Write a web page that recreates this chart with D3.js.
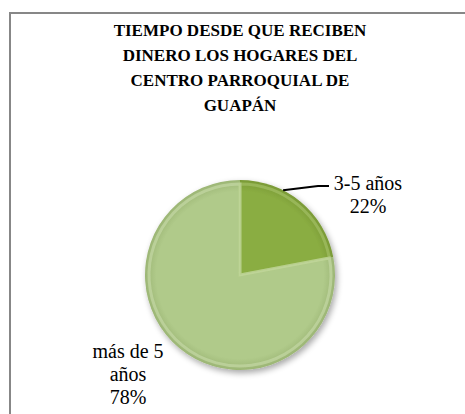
<!DOCTYPE html>
<html><head><meta charset="utf-8">
<script src="https://cdn.jsdelivr.net/npm/d3@7"></script>
</head><body>
<script>
const titleLines = ["TIEMPO DESDE QUE RECIBEN", "DINERO LOS HOGARES DEL", "CENTRO PARROQUIAL DE", "GUAPÁN"];
const categories = ["3-5 años", "más de 5 años"];
const values = [22, 78];
const colors = ["#8aad42", "#b0ca8a"];
const edgeColors = ["#a9c56c", "#c9dcab"];
const darkColors = ["#7a9a36", "#9cb675"];

d3.select("body").style("margin","0px").style("background","#fff");
const W = 465, H = 414;
const svg = d3.select("body").append("svg").attr("width", W).attr("height", H).style("display","block");
const defs = svg.append("defs");
const serifFont = "Liberation Serif";

// frame
svg.append("path").attr("d", `M10,${H+5} L10,13 L${W+5},13`).attr("fill","none").attr("stroke","#878787").attr("stroke-width",2);

// title
svg.selectAll("text.title").data(titleLines).join("text").attr("class","title")
  .attr("x",240).attr("y",(d,i)=>36+i*25).attr("text-anchor","middle")
  .attr("font-family",serifFont).attr("font-weight","bold").attr("font-size",17).text(d=>d);

const cx = 240, cy = 275, r = 95;
const pie = d3.pie().sort(null).value(d=>d)(values);
const arc = d3.arc().innerRadius(0).outerRadius(r);
const arcInner = d3.arc().innerRadius(0).outerRadius(r-4);

// shadow filter
const f = defs.append("filter").attr("id","sh").attr("x","-20%").attr("y","-20%").attr("width","140%").attr("height","140%");
f.append("feGaussianBlur").attr("in","SourceAlpha").attr("stdDeviation",3);
f.append("feOffset").attr("dx",2).attr("dy",3).attr("result","ob");
f.append("feComponentTransfer").append("feFuncA").attr("type","linear").attr("slope",0.35);
const m = f.append("feMerge"); m.append("feMergeNode"); m.append("feMergeNode").attr("in","SourceGraphic");

colors.forEach((c,i)=>{
  const g = defs.append("radialGradient").attr("id","g"+i).attr("gradientUnits","userSpaceOnUse")
    .attr("cx",0).attr("cy",0).attr("r",r);
  g.append("stop").attr("offset","0%").attr("stop-color",c);
  g.append("stop").attr("offset","88%").attr("stop-color",c);
  g.append("stop").attr("offset","100%").attr("stop-color",darkColors[i]);
});

const gp = svg.append("g").attr("transform",`translate(${cx},${cy})`).attr("filter","url(#sh)");
gp.selectAll("path.s").data(pie).join("path").attr("class","s")
  .attr("d",arc).attr("fill",(d,i)=>`url(#g${i})`);
gp.selectAll("path.b").data(pie).join("path").attr("class","b")
  .attr("d",arcInner).attr("fill","none").attr("stroke",(d,i)=>edgeColors[i]).attr("stroke-width",3).attr("opacity",0.6);

// labels
const lab1Lines = [categories[0], values[0]+"%"];
svg.selectAll("text.l1").data(lab1Lines).join("text").attr("class","l1")
  .attr("x",368).attr("y",(d,i)=>190+i*23).attr("text-anchor","middle")
  .attr("font-family",serifFont).attr("font-size",20).text(d=>d);

// leader line
const mid = (pie[0].startAngle+pie[0].endAngle)/2;
const p0 = [cx + Math.sin(mid-0.22)*r, cy - Math.cos(mid-0.22)*r];
svg.append("polyline").attr("points",`${p0[0]},${p0[1]} 318,186 329,186`).attr("fill","none").attr("stroke","#000").attr("stroke-width",2);

const lab2Lines = ["más de 5", "años", values[1]+"%"];
svg.selectAll("text.l2").data(lab2Lines).join("text").attr("class","l2")
  .attr("x",128).attr("y",(d,i)=>358+i*23).attr("text-anchor","middle")
  .attr("font-family",serifFont).attr("font-size",20).text(d=>d);
</script>
</body></html>
